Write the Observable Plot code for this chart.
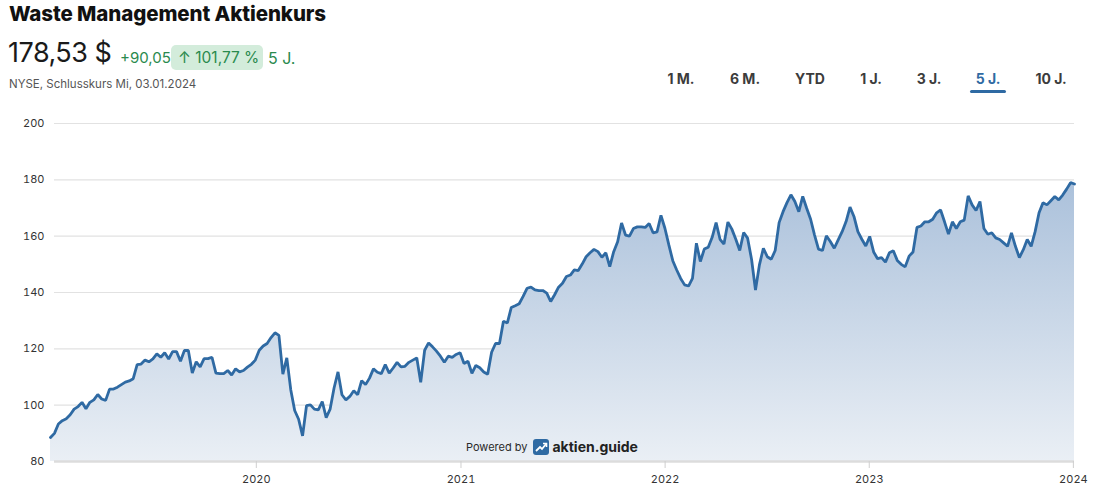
<!DOCTYPE html>
<html>
<head>
<meta charset="utf-8">
<script src="https://cdn.jsdelivr.net/npm/d3@7"></script>
<script src="https://cdn.jsdelivr.net/npm/@observablehq/plot@0.6"></script>
<style>
  html, body { margin: 0; padding: 0; background: #fff; }
  body { width: 1094px; height: 497px; position: relative; overflow: hidden; font-family: Inter, "Noto Sans", sans-serif; color: #111; }
  .abs { position: absolute; white-space: nowrap; }
  #title { left: 9px; top: 2px; font-size: 20.5px; line-height: 24px; font-weight: 800; letter-spacing: -0.1px; }
  #price { left: 8px; top: 36px; font-size: 27px; line-height: 34px; font-weight: 400; color: #1a1a1a; letter-spacing: -0.5px; }
  #change { left: 120px; top: 48px; font-size: 15px; line-height: 20px; color: #2a8a4e; }
  #badge { left: 171px; top: 45px; width: 92px; height: 25px; background: #d3ecdb; border-radius: 5px; }
  #pct { left: 178px; top: 47px; font-size: 15.5px; line-height: 22px; color: #2a8a4e; }
  #period { left: 268px; top: 47px; font-size: 16px; line-height: 22px; color: #2a8a4e; }
  #sub { left: 9px; top: 77px; font-size: 11.5px; line-height: 14px; color: #555; }
  .btn { top: 70px; font-size: 14px; line-height: 18px; font-weight: 700; color: #3c3c3c; transform: translateX(-50%); }
  .btn.active { color: #2f6aa3; }
  #underline { left: 970px; top: 90px; width: 36px; height: 3px; background: #2f6aa3; border-radius: 2px; }
  #chart { left: 0; top: 110px; }
  #powered { left: 466px; top: 438px; font-size: 11px; line-height: 18px; color: #2a2a2a; display: flex; align-items: center; }
  #powered b { font-size: 14px; font-weight: 700; color: #222; margin-left: 3px; }
</style>
</head>
<body>
<div id="title" class="abs"></div>
<div id="price" class="abs"></div>
<div id="change" class="abs"></div>
<div id="badge" class="abs"></div>
<div id="pct" class="abs"></div>
<div id="period" class="abs"></div>
<div id="sub" class="abs"></div>
<div id="buttons"></div>
<div id="underline" class="abs"></div>
<div id="chart" class="abs"></div>
<div id="powered" class="abs"><span>Powered by</span>
  <svg width="16" height="16" viewBox="0 0 16 16" style="margin-left:6px">
    <rect x="0" y="0" width="16" height="16" rx="3" fill="#2f6aa3"/>
    <path d="M3 12 L7 8 L9 10 L13 5" stroke="#fff" stroke-width="1.8" fill="none"/>
    <path d="M10 4.5 L13.5 4.5 L13.5 8" stroke="#fff" stroke-width="1.6" fill="none"/>
  </svg>
  <b>aktien.guide</b></div>

<script>
// ---- header texts ----
const titleText = "Waste Management Aktienkurs";
const lastPrice = "178,53 $";
const absChange = "+90,05";
const pctChange = "↑ 101,77 %";
const periodLabel = "5 J.";
const subtitle = "NYSE, Schlusskurs Mi, 03.01.2024";
const rangeButtons = ["1 M.", "6 M.", "YTD", "1 J.", "3 J.", "5 J.", "10 J."];
const activeButton = "5 J.";

// ---- time span (first and last closing date) ----
const startDate = "2018-12-29";
const endDate = "2024-01-03";

// ---- weekly closing prices (USD) ----
const pricesPart1 = [88.5, 90, 93.3, 94.5, 95.2, 96.6, 98.6, 99.5, 101, 98.7,
  101, 101.9, 103.8, 102.2, 101.7, 105.7, 105.7, 106.4, 107.3, 108.2,
  108.6, 109.4, 114.4, 114.6, 116, 115.4, 116.4, 118.2, 117, 118.6,
  116.4, 119, 119, 115.6, 119.4, 119.4, 111.4, 115.4, 113.6, 116.5,
  116.5, 117, 111.4, 111.2, 111.2, 112.3, 110.7, 112.9, 111.8, 112.3,
  113.5, 114.5, 116];
const pricesPart2 = [119.5, 121, 121.9, 124, 125.7, 124.8, 111, 116.8, 105.5, 98.1,
  95, 89.1, 99.8, 100.1, 98.6, 98.3, 101.3, 95.6, 98.6, 106.1,
  111.8, 103.7, 101.9, 103.1, 105.1, 103.7, 108.7, 107.3, 109.6, 112.9,
  111.7, 111.2, 114.4, 111.4, 113.2, 115.2, 113.6, 113.8, 115.2, 116,
  116.8, 108.1, 119.5, 122.1, 120.7, 119.2, 117.4, 115.2, 117.4, 117,
  118, 118.6];
const pricesPart3 = [114.8, 115.6, 111.3, 114.1, 113.3, 111.8, 111, 118.8, 121.9, 121.9,
  129.8, 129.2, 134.7, 135.3, 136, 138.6, 141.5, 141.9, 140.9, 140.7,
  140.7, 139.8, 136.8, 139.2, 141.9, 143.3, 145.7, 146.2, 148, 147.8,
  150.1, 152.7, 154.1, 155.3, 154.5, 152.5, 154.1, 149.2, 154.5, 158,
  164.7, 160.4, 160, 162.7, 163.3, 163.3, 163.1, 164.5, 161.2, 161.5,
  167.4];
const pricesPart4 = [162.8, 156.9, 151.3, 148, 145, 142.7, 142.3, 145, 157.5, 151,
  155.4, 156.1, 159.6, 164.8, 158.9, 157.2, 165, 162.5, 158.9, 154.9,
  161.3, 159.3, 151.8, 140.9, 149.8, 155.7, 152.7, 151.8, 154.9, 164.8,
  168.7, 171.9, 174.7, 172.3, 168.7, 174.1, 169.9, 166, 160.4, 155.4,
  154.9, 160.1, 158.1, 155.7, 158.7, 161.6, 165.2, 170.3, 167, 161.6,
  158.9, 156.5, 159.9];
const pricesPart5 = [154.4, 152, 152.4, 150.8, 154.1, 154.8, 151.4, 150, 149.1, 152.9,
  154.4, 163.1, 163.6, 165.1, 165.1, 166, 168.3, 169.3, 165.1, 160.7,
  165.1, 162.7, 165.1, 165.7, 174.3, 171.1, 169.1, 172.3, 162.7, 160.7,
  161.2, 159.4, 158.8, 157.6, 156.4, 161.2, 156.4, 152.4, 155.2, 158.8,
  156.4, 161.6, 168.3, 171.9, 171.1, 172.6, 174.1, 172.9, 174.6, 176.7,
  179, 178.53];

// ---- axis ticks ----
const yTicks = [80, 100, 120, 140, 160, 180, 200];
const xTickYears = [2020, 2021, 2022, 2023, 2024];

// ---- header DOM ----
document.getElementById("title").textContent = titleText;
document.getElementById("price").textContent = lastPrice;
document.getElementById("change").textContent = absChange;
document.getElementById("pct").textContent = pctChange;
document.getElementById("period").textContent = periodLabel;
document.getElementById("sub").textContent = subtitle;
const btnCenters = [681, 745, 810, 871, 929, 988, 1051];
const btnWrap = document.getElementById("buttons");
rangeButtons.forEach((b, i) => {
  const s = document.createElement("div");
  s.className = "abs btn" + (b === activeButton ? " active" : "");
  s.style.left = btnCenters[i] + "px";
  s.textContent = b;
  btnWrap.appendChild(s);
});

// ---- build table ----
const prices = [...pricesPart1, ...pricesPart2, ...pricesPart3, ...pricesPart4, ...pricesPart5];
const t0 = new Date(startDate + "T00:00:00Z");
const t1 = new Date(endDate + "T00:00:00Z");
const n = prices.length;
const data = prices.map((p, i) => ({
  date: new Date(+t0 + i * (t1 - t0) / (n - 1)),
  price: p
}));
const yearDates = xTickYears.map(y => new Date(Date.UTC(y, 0, 1)));

const chart = Plot.plot({
  width: 1094,
  height: 387,
  marginLeft: 50,
  marginRight: 20,
  marginTop: 13,
  marginBottom: 36,
  style: { fontFamily: "Inter, 'Noto Sans', sans-serif", fontSize: "11px", color: "#333", background: "transparent" },
  x: { type: "utc", domain: [t0, t1] },
  y: { domain: [80, 200] },
  marks: [
    Plot.ruleY(yTicks.filter(v => v > 80), { stroke: "#e2e2e2", strokeWidth: 1.2, insetLeft: 4 }),
    Plot.areaY(data, { x: "date", y1: 80, y2: "price", fill: "url(#areaGrad)" }),
    Plot.ruleY([80], { stroke: "#dcdcdc", strokeWidth: 2.5, insetLeft: 4 }),
    Plot.lineY(data, { x: "date", y: "price", stroke: "#2f6aa3", strokeWidth: 2.8, strokeLinejoin: "miter" }),
    Plot.axisY({ ticks: yTicks, tickSize: 0, tickPadding: 6, label: null, tickFormat: d => String(d) }),
    Plot.axisX({ ticks: yearDates, tickFormat: d => String(d.getUTCFullYear()), tickSize: 7, tickPadding: 7, stroke: "#cfcfcf", label: null })
  ]
});

const svg = d3.select(chart);
const defs = svg.insert("defs", ":first-child");
const grad = defs.append("linearGradient").attr("id", "areaGrad").attr("x1", 0).attr("y1", 0).attr("x2", 0).attr("y2", 1);
grad.append("stop").attr("offset", "0%").attr("stop-color", "#abc1db");
grad.append("stop").attr("offset", "100%").attr("stop-color", "#eaeff5");
document.getElementById("chart").appendChild(chart);
</script>
</body>
</html>
